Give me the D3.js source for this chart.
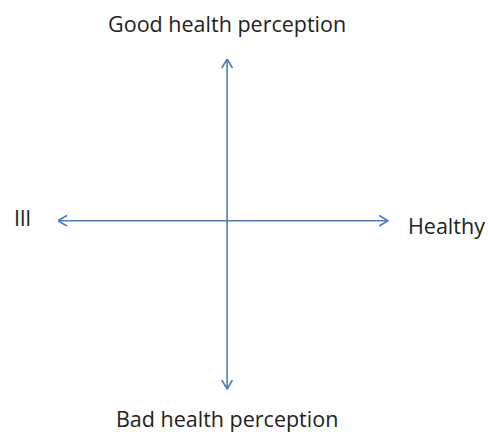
<html>
<head>
<meta charset="utf-8">
<title>Health perception quadrant</title>
<style type="text/css">
body { margin: 0; background: #fff; }
svg { font-family: "Open Sans", sans-serif; }
.axis-line { fill: none; stroke: #4a7ebb; stroke-width: 1.6px; }
.arrow-head { fill: none; stroke: #4a7ebb; stroke-width: 1.6px; stroke-linecap: round; stroke-linejoin: round; }
.label { fill: #222; font-size: 21.5px; }
</style>
</head>
<body>
<script src="https://d3js.org/d3.v7.min.js"></script>
<script>
var W = 488, H = 432;

// axis ends: [negative end, positive end]
var xEndLabels = ["Ill", "Healthy"];
var yEndLabels = ["Bad health perception", "Good health perception"];
var xDomain = [-1, 1],
    yDomain = [-1, 1];
// where the two arrows cross (domain units)
var xCross = [0.025],
    yCross = [0.02];

var xs = d3.scaleLinear().domain(xDomain).range([58, 388]),
    ys = d3.scaleLinear().domain(yDomain).range([389, 59]);

var svg = d3.select("body").append("svg")
    .attr("width", W)
    .attr("height", H);

// open chevron arrow head
var defs = svg.append("defs");
defs.append("marker")
    .attr("id", "arrow")
    .attr("viewBox", "0 0 10 12")
    .attr("refX", 9.5)
    .attr("refY", 6)
    .attr("markerUnits", "userSpaceOnUse")
    .attr("markerWidth", 10)
    .attr("markerHeight", 12)
    .attr("orient", "auto-start-reverse")
  .append("path")
    .attr("class", "arrow-head")
    .attr("d", "M1,1 L9.5,6 L1,11");

// horizontal arrow
svg.append("line")
    .attr("class", "axis-line")
    .attr("x1", xs(xDomain[0])).attr("x2", xs(xDomain[1]))
    .attr("y1", ys(yCross[0])).attr("y2", ys(yCross[0]))
    .attr("marker-start", "url(#arrow)")
    .attr("marker-end", "url(#arrow)");

// vertical arrow
svg.append("line")
    .attr("class", "axis-line")
    .attr("x1", xs(xCross[0])).attr("x2", xs(xCross[0]))
    .attr("y1", ys(yDomain[0])).attr("y2", ys(yDomain[1]))
    .attr("marker-start", "url(#arrow)")
    .attr("marker-end", "url(#arrow)");

// labels
svg.append("text").attr("class", "label")
    .attr("x", xs(xCross[0])).attr("y", ys(yDomain[1]) - 27)
    .attr("text-anchor", "middle")
    .text(yEndLabels[1]);

svg.append("text").attr("class", "label")
    .attr("x", xs(xCross[0])).attr("y", ys(yDomain[0]) + 38)
    .attr("text-anchor", "middle")
    .text(yEndLabels[0]);

svg.append("text").attr("class", "label")
    .attr("x", 14).attr("y", ys(yCross[0]) + 5)
    .attr("text-anchor", "start")
    .text(xEndLabels[0]);

svg.append("text").attr("class", "label")
    .attr("x", 408).attr("y", ys(yCross[0]) + 13)
    .attr("text-anchor", "start")
    .text(xEndLabels[1]);
</script>
</body>
</html>
